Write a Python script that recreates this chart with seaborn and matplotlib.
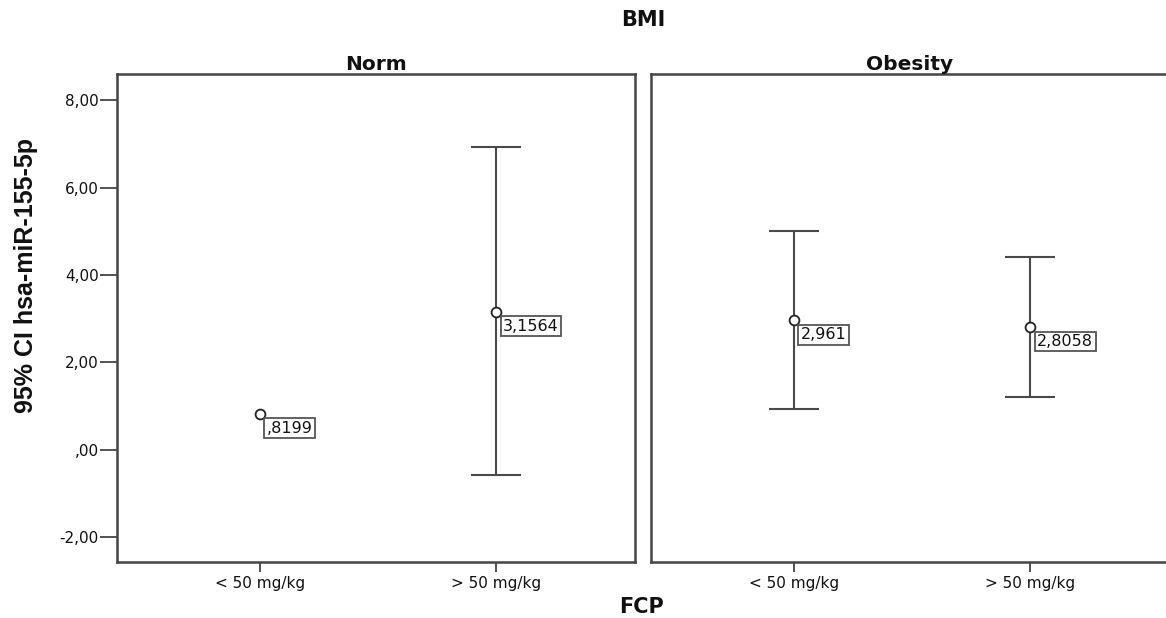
import matplotlib.pyplot as plt
import matplotlib.ticker as mticker
import seaborn as sns
import pandas as pd

sns.set_theme(style="white")
plt.rcParams['font.family'] = ['DejaVu Sans']

# summary values
bmi = ["Norm", "Norm", "Obesity", "Obesity"]
fcp = ["< 50 mg/kg", "> 50 mg/kg", "< 50 mg/kg", "> 50 mg/kg"]
means = [0.8199, 3.1564, 2.961, 2.8058]
ci_low = [None, -0.59, 0.94, 1.21]
ci_high = [None, 6.93, 5.01, 4.41]
labels = [",8199", "3,1564", "2,961", "2,8058"]
panels = ["Norm", "Obesity"]
fcp_levels = ["< 50 mg/kg", "> 50 mg/kg"]

df = pd.DataFrame({"BMI": bmi, "FCP": fcp, "mean": means,
                   "lo": ci_low, "hi": ci_high, "label": labels})
df["x"] = df["FCP"].map({k: i for i, k in enumerate(fcp_levels)})

fig, axes = plt.subplots(1, 2, figsize=(11.66, 6.18), dpi=100)
fig.subplots_adjust(left=0.1003, right=1.0026, top=0.8803, bottom=0.0906,
                    wspace=0.0308)

def comma(v, pos):
    s = "%.2f" % v
    s = s.replace(".", ",")
    if s.startswith("0,"):
        s = s[1:]
    elif s.startswith("-0,"):
        s = "-" + s[2:]
    return s

for ax, p in zip(axes, panels):
    sub = df[df["BMI"] == p]
    ci = sub.dropna(subset=["lo"])
    ax.errorbar(ci["x"], ci["mean"],
                yerr=[ci["mean"] - ci["lo"], ci["hi"] - ci["mean"]],
                fmt="none", ecolor="#4a4a4a", elinewidth=1.5, capsize=18,
                capthick=1.5, zorder=1)
    sns.scatterplot(data=sub, x="x", y="mean", ax=ax, s=50,
                    facecolor="white", edgecolor="#222222", linewidth=1.3,
                    zorder=3, legend=False)
    for _, r in sub.iterrows():
        ax.annotate(r["label"], (r["x"], r["mean"]), xytext=(5, -5),
                    textcoords="offset points", ha="left", va="top",
                    fontsize=11.5, color="#111111",
                    bbox=dict(boxstyle="square,pad=0.15", fc="white",
                              ec="#555555", lw=1.3))
    ax.set_xlim(-0.603, 1.587)
    ax.set_ylim(-2.57, 8.6)
    ax.set_xticks([0, 1])
    ax.set_xticklabels(fcp_levels, fontsize=11, color="#111111")
    ax.set_xlabel("")
    ax.set_ylabel("")
    ax.set_title(p, fontsize=14.5, fontweight="bold", pad=3, color="#111111")
    for s in ax.spines.values():
        s.set_color("#444444")
        s.set_linewidth(1.8)
    ax.tick_params(axis="x", bottom=True, length=7, width=1.3,
                   color="#444444", pad=3)
    ax.set_facecolor("white")

axes[0].yaxis.set_major_locator(mticker.MultipleLocator(2))
axes[0].yaxis.set_major_formatter(mticker.FuncFormatter(comma))
axes[0].tick_params(axis="y", left=True, length=12, width=1.3,
                    color="#444444", labelsize=11, pad=1,
                    labelcolor="#111111")
axes[1].set_yticks([])
axes[0].set_ylabel("95% CI hsa-miR-155-5p", fontsize=18, fontweight="bold",
                   family=["Liberation Sans"], color="#111111")
axes[0].yaxis.set_label_coords(-0.152, 0.588)

fig.text(0.552, 0.968, "BMI", ha="center", va="center", fontsize=15,
         fontweight="bold", color="#111111")
fig.text(0.550, 0.017, "FCP", ha="center", va="center", fontsize=15,
         fontweight="bold", color="#111111")

plt.savefig("out.png", dpi=100)
